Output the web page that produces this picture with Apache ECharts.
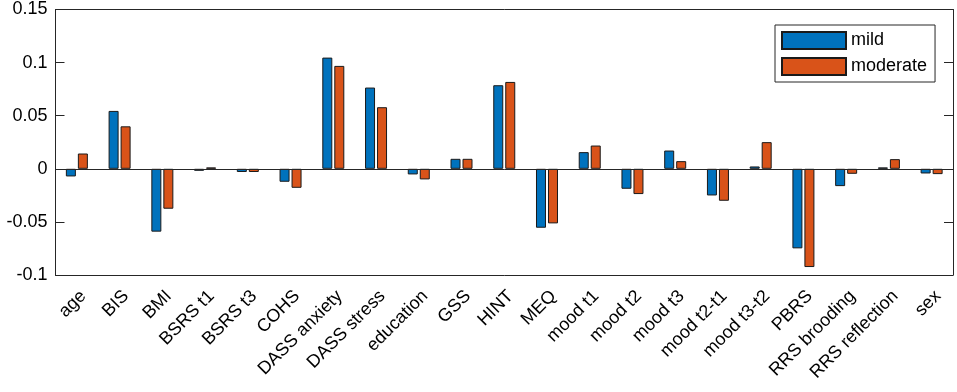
<!DOCTYPE html>
<html>
<head>
<meta charset="utf-8">
<script src="https://cdn.jsdelivr.net/npm/echarts@6/dist/echarts.min.js"></script>
<style>
  html, body { margin: 0; padding: 0; background: #fff; }
  #chart { width: 957px; height: 392px; }
</style>
</head>
<body>
<div id="chart"></div>
<script>
// categories and bar values
const categories = ['age', 'BIS', 'BMI', 'BSRS t1', 'BSRS t3', 'COHS', 'DASS anxiety', 'DASS stress',
  'education', 'GSS', 'HINT', 'MEQ', 'mood t1', 'mood t2', 'mood t3', 'mood t2-t1', 'mood t3-t2',
  'PBRS', 'RRS brooding', 'RRS reflection', 'sex'];
const mild = [-0.0072, 0.0545, -0.0592, -0.0019, -0.003, -0.0122, 0.1047, 0.0765,
  -0.0053, 0.0094, 0.0787, -0.0555, 0.0157, -0.0188, 0.0172, -0.0251, 0.0022,
  -0.0749, -0.0163, 0.0013, -0.0044];
const moderate = [0.0144, 0.040, -0.0376, 0.0013, -0.003, -0.0179, 0.0969, 0.058,
  -0.010, 0.0094, 0.0818, -0.0514, 0.0219, -0.0238, 0.0072, -0.0301, 0.0251,
  -0.0925, -0.0047, 0.0091, -0.005];
const yTicks = [-0.1, -0.05, 0, 0.05, 0.1, 0.15];

const axisColor = '#262626';
const font = '"Liberation Sans", Arial, Helvetica, sans-serif';

const chart = echarts.init(document.getElementById('chart'));

const barStyle = color => ({
  color: color,
  borderColor: '#1a1a1a',
  borderWidth: 1,
});

chart.setOption({
  animation: false,
  grid: { left: 55.5, right: 4, top: 9.5, bottom: 117 },
  legend: {
    orient: 'vertical',
    left: 775,
    top: 25,
    padding: [6, 8, 6, 6],
    itemGap: 7,
    itemWidth: 64,
    itemHeight: 17,
    itemTextGap: 5,
    icon: 'rect',
    borderColor: axisColor,
    borderWidth: 1,
    backgroundColor: '#fff',
    textStyle: { fontSize: 18, color: '#000', fontFamily: font },
    data: ['mild', 'moderate'],
  },
  xAxis: [
    {
      type: 'category',
      data: categories,
      boundaryGap: true,
      axisLine: { onZero: false, lineStyle: { color: axisColor, width: 1 } },
      axisTick: { inside: true, length: 9, alignWithLabel: true, lineStyle: { color: axisColor } },
      axisLabel: {
        rotate: 45,
        interval: 0,
        margin: 12,
        align: 'right',
        verticalAlign: 'top',
        fontSize: 18,
        color: '#000',
        fontFamily: font,
      },
    },
    {
      type: 'category',
      position: 'top',
      data: categories,
      boundaryGap: true,
      axisLine: { onZero: false, lineStyle: { color: axisColor, width: 1 } },
      axisTick: { inside: true, length: 9, alignWithLabel: true, lineStyle: { color: axisColor } },
      axisLabel: { show: false },
    },
  ],
  yAxis: [
    {
      type: 'value',
      min: yTicks[0],
      max: yTicks[yTicks.length - 1],
      interval: 0.05,
      axisLine: { show: true, lineStyle: { color: axisColor, width: 1 } },
      axisTick: { show: true, inside: true, length: 9, lineStyle: { color: axisColor } },
      splitLine: { show: false },
      axisLabel: {
        fontSize: 18,
        color: '#000',
        fontFamily: font,
        margin: 8,
        formatter: v => String(Math.round(v * 100) / 100),
      },
    },
    {
      type: 'value',
      position: 'right',
      min: yTicks[0],
      max: yTicks[yTicks.length - 1],
      interval: 0.05,
      axisLine: { show: true, lineStyle: { color: axisColor, width: 1 } },
      axisTick: { show: true, inside: true, length: 9, lineStyle: { color: axisColor } },
      splitLine: { show: false },
      axisLabel: { show: false },
    },
  ],
  series: [
    {
      name: 'mild',
      type: 'bar',
      barWidth: 10,
      barGap: '20%',
      itemStyle: barStyle('#0072BD'),
      data: mild,
      markLine: {
        silent: true,
        symbol: 'none',
        label: { show: false },
        lineStyle: { color: axisColor, width: 1, type: 'solid' },
        data: [{ yAxis: 0 }],
      },
    },
    {
      name: 'moderate',
      type: 'bar',
      barWidth: 10,
      barGap: '20%',
      itemStyle: barStyle('#D95319'),
      data: moderate,
    },
  ],
});
</script>
</body>
</html>
